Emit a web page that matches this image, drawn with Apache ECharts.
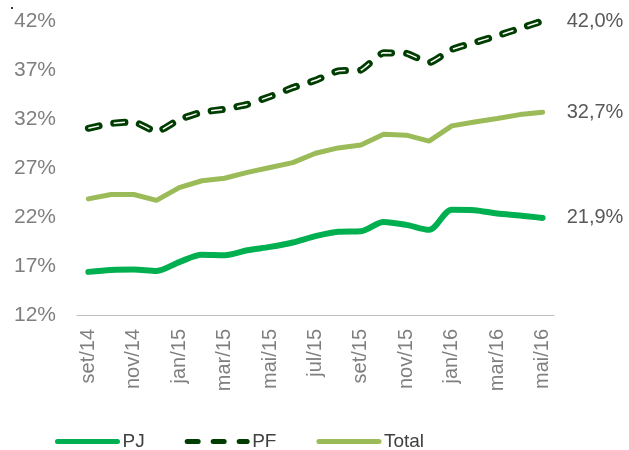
<!DOCTYPE html>
<html>
<head>
    <meta charset="utf-8">
    <title>PJ / PF / Total</title>
    <script src="https://cdn.jsdelivr.net/npm/echarts@6/dist/echarts.min.js"></script>
    <style>
        html, body { margin: 0; padding: 0; background: #fff; }
    </style>
</head>
<body>
<div id="main" style="width: 629px; height: 450px;"></div>

<script type="text/javascript">
    // meses
    var months = ['set/14', 'out/14', 'nov/14', 'dez/14', 'jan/15', 'fev/15', 'mar/15', 'abr/15',
        'mai/15', 'jun/15', 'jul/15', 'ago/15', 'set/15', 'out/15', 'nov/15', 'dez/15',
        'jan/16', 'fev/16', 'mar/16', 'abr/16', 'mai/16'];

    // valores em %
    var pj = [16.4, 16.6, 16.65, 16.5, 17.4, 18.15, 18.1, 18.6, 18.95, 19.4, 20.05, 20.5,
        20.55, 21.5, 21.2, 20.7, 22.75, 22.7, 22.35, 22.15, 21.9];
    var pf = [31.05, 31.55, 31.7, 30.7, 31.95, 32.7, 33.0, 33.5, 34.3, 35.2, 35.95, 36.9,
        37.0, 38.75, 38.7, 37.75, 39.1, 39.8, 40.5, 41.25, 42.0];
    var total = [23.85, 24.3, 24.3, 23.7, 25.0, 25.7, 25.95, 26.55, 27.05, 27.55, 28.5, 29.05,
        29.35, 30.45, 30.35, 29.75, 31.3, 31.7, 32.05, 32.45, 32.7];

    var yMin = 12, yMax = 42, yStep = 5;

    var font = "'Liberation Sans', Arial, sans-serif";

    function pct(p) {
        return p.value.toFixed(1).replace('.', ',') + '%';
    }

    var endLabel = {
        show: true,
        formatter: pct,
        distance: 24,
        color: '#595959',
        fontSize: 20,
        fontFamily: font
    };

    var myChart = echarts.init(document.getElementById('main'));
    myChart.setOption({
        animation: false,
        grid: {
            left: 77,
            right: 75,
            top: 21,
            bottom: 135
        },
        legend: {
            data: ['PJ', 'PF', 'Total'],
            left: 55,
            top: 432,
            padding: 0,
            itemWidth: 60,
            itemHeight: 12,
            itemGap: 40,
            itemStyle: { opacity: 0 },
            lineStyle: { width: 5 },
            textStyle: {
                color: '#404040',
                fontSize: 19,
                fontFamily: font
            }
        },
        graphic: [{
            type: 'rect',
            shape: { x: 11, y: 7, width: 2, height: 2 },
            style: { fill: '#333' }
        }],
        xAxis: {
            type: 'category',
            data: months,
            boundaryGap: true,
            axisLine: { lineStyle: { color: '#bfbfbf', width: 1 } },
            axisTick: {
                interval: 1,
                length: 6,
                lineStyle: { color: '#bfbfbf' }
            },
            axisLabel: {
                interval: 1,
                rotate: 90,
                margin: 14,
                color: '#7f7f7f',
                fontSize: 20,
                fontFamily: font
            }
        },
        yAxis: {
            type: 'value',
            min: yMin,
            max: yMax,
            interval: 1,
            axisLine: { show: false },
            axisTick: { show: false },
            splitLine: { show: false },
            axisLabel: {
                margin: 21,
                color: '#7f7f7f',
                fontSize: 21,
                fontFamily: font,
                formatter: function (v) {
                    return (v - yMin) % yStep === 0 ? v + '%' : '';
                }
            }
        },
        series: [{
            name: 'PJ',
            type: 'line',
            data: pj,
            smooth: 0.3,
            symbol: 'none',
            color: '#00b050',
            lineStyle: { width: 6, color: '#00b050', cap: 'round' },
            endLabel: endLabel
        }, {
            name: 'PF',
            type: 'line',
            data: pf,
            smooth: 0.15,
            symbol: 'none',
            color: '#003d00',
            lineStyle: { width: 7, color: '#003d00', type: [11, 15], cap: 'round' },
            endLabel: endLabel
        }, {
            // fio branco dentro dos traços do PF
            name: 'PF-inner',
            type: 'line',
            data: pf,
            smooth: 0.15,
            symbol: 'none',
            silent: true,
            lineStyle: { width: 1.5, color: '#ffffff', type: [11, 15], cap: 'butt' }
        }, {
            name: 'Total',
            type: 'line',
            data: total,
            symbol: 'none',
            color: '#9bbb59',
            lineStyle: { width: 5, color: '#9bbb59', cap: 'round' },
            endLabel: endLabel
        }]
    });
</script>
</body>
</html>
